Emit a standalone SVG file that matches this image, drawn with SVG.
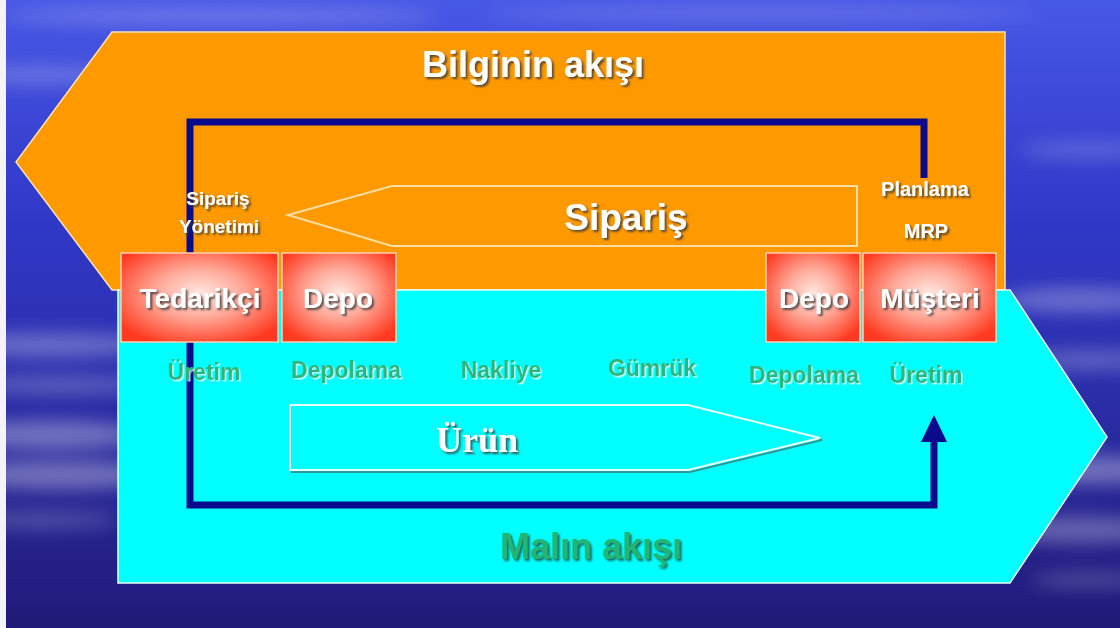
<svg xmlns="http://www.w3.org/2000/svg" width="1120" height="628" viewBox="0 0 1120 628">
  <defs>
    <linearGradient id="sky" x1="0" y1="0" x2="0" y2="1">
      <stop offset="0" stop-color="#4858e6"/>
      <stop offset="0.35" stop-color="#3038c8"/>
      <stop offset="0.7" stop-color="#2a2aa0"/>
      <stop offset="1" stop-color="#201a78"/>
    </linearGradient>
    <radialGradient id="boxFill" cx="0.5" cy="0.45" r="0.62">
      <stop offset="0" stop-color="#ffe8e0"/>
      <stop offset="0.45" stop-color="#ffa898"/>
      <stop offset="1" stop-color="#ff3a20"/>
    </radialGradient>
    <filter id="haze" x="-50%" y="-50%" width="200%" height="200%">
      <feGaussianBlur stdDeviation="9"/>
    </filter>
    <filter id="shadowDark" x="-10%" y="-20%" width="130%" height="150%">
      <feDropShadow dx="2" dy="2" stdDeviation="0.8" flood-color="#3a3a3a" flood-opacity="0.85"/>
    </filter>
    <filter id="shadowLight" x="-10%" y="-20%" width="130%" height="150%">
      <feDropShadow dx="1.5" dy="1.5" stdDeviation="0.5" flood-color="#ffffff" flood-opacity="0.75"/>
    </filter>
    <filter id="shadowGreen" x="-10%" y="-20%" width="130%" height="150%">
      <feDropShadow dx="2" dy="2" stdDeviation="0.8" flood-color="#1d5a48" flood-opacity="0.9"/>
    </filter>
    <style>
      .white-bold { font-family: "Liberation Sans", Arial, sans-serif; font-weight: bold; fill: #ffffff; text-anchor: middle; }
      .step { font-family: "Liberation Sans", Arial, sans-serif; font-weight: bold; fill: #2fb57c; text-anchor: middle; font-size: 23px; filter: url(#shadowLight); }
      .box { fill: url(#boxFill); stroke: #ffcfae; stroke-width: 1.5; }
      .box-label { font-size: 28px; filter: url(#shadowDark); }
      .flow { fill: none; stroke: #0a0a8c; stroke-width: 7; stroke-linejoin: miter; }
    </style>
  </defs>

  <!-- backdrop: blue sky with soft streaks -->
  <rect x="0" y="0" width="1120" height="628" fill="url(#sky)"/>
  <g fill="#ffffff" filter="url(#haze)">
    <ellipse cx="220" cy="16" rx="220" ry="7" opacity="0.25"/>
    <ellipse cx="760" cy="14" rx="280" ry="6" opacity="0.2"/>
    <ellipse cx="40" cy="75" rx="70" ry="8" opacity="0.25"/>
    <ellipse cx="50" cy="345" rx="100" ry="12" opacity="0.3"/>
    <ellipse cx="60" cy="385" rx="90" ry="9" opacity="0.25"/>
    <ellipse cx="50" cy="435" rx="90" ry="14" opacity="0.35"/>
    <ellipse cx="60" cy="475" rx="100" ry="14" opacity="0.35"/>
    <ellipse cx="40" cy="520" rx="80" ry="9" opacity="0.2"/>
    <ellipse cx="1090" cy="150" rx="70" ry="8" opacity="0.2"/>
    <ellipse cx="1080" cy="300" rx="80" ry="12" opacity="0.3"/>
    <ellipse cx="1090" cy="360" rx="70" ry="10" opacity="0.25"/>
    <ellipse cx="1090" cy="470" rx="80" ry="14" opacity="0.35"/>
    <ellipse cx="1080" cy="530" rx="80" ry="13" opacity="0.3"/>
    <ellipse cx="1090" cy="580" rx="60" ry="8" opacity="0.2"/>
  </g>
  <rect x="0" y="0" width="6" height="628" fill="#f4f4f8"/>

  <!-- information flow band (left-pointing) -->
  <g id="bilgi-akisi">
    <polygon points="112,32 1005,32 1005,290 112,290 16,162" fill="#ff9900" stroke="#ffe2b0" stroke-width="1.5"/>
    <text class="white-bold" x="533" y="77" font-size="36" filter="url(#shadowDark)">Bilginin akışı</text>
  </g>

  <!-- goods flow band (right-pointing) -->
  <g id="malin-akisi">
    <polygon points="118,290 1010,290 1107,437 1010,583 118,583" fill="#00ffff" stroke="#e8ffff" stroke-width="1.5"/>
    <text x="591" y="559" font-family="Liberation Sans, Arial, sans-serif" font-weight="bold" font-size="36" fill="#22b573" text-anchor="middle" filter="url(#shadowGreen)">Malın akışı</text>
  </g>

  <!-- order arrow -->
  <g id="siparis">
    <polygon points="288,215 392,186 857,186 857,246 392,246" fill="#ff9900" stroke="#ffdca0" stroke-width="2"/>
    <text class="white-bold" x="626" y="230" font-size="37" filter="url(#shadowDark)">Sipariş</text>
  </g>

  <!-- product arrow -->
  <g id="urun">
    <polygon points="292,407 690,407 822,440 690,472 292,472" fill="none" stroke="#2a9a9a" stroke-width="2"/>
    <polygon points="290,405 688,405 820,438 688,470 290,470" fill="#00ffff" stroke="#e8ffff" stroke-width="2"/>
    <text x="477" y="452" font-family="Liberation Serif, Times New Roman, serif" font-weight="bold" font-size="36" fill="#ffffff" text-anchor="middle" filter="url(#shadowDark)">Ürün</text>
  </g>

  <!-- connectors -->
  <g id="connectors">
    <polyline class="flow" points="924,178 924,122 190,122 190,505 934,505 934,442"/>
    <polygon points="934,415 921,442 947,442" fill="#0a0a8c"/>
  </g>

  <!-- nodes -->
  <g id="tedarikci">
    <rect class="box" x="121" y="253" width="157" height="89"/>
    <text class="white-bold box-label" x="200" y="308">Tedarikçi</text>
  </g>
  <g id="depo-1">
    <rect class="box" x="282" y="253" width="114" height="89"/>
    <text class="white-bold box-label" x="338" y="308">Depo</text>
  </g>
  <g id="depo-2">
    <rect class="box" x="766" y="253" width="94" height="89"/>
    <text class="white-bold box-label" x="814" y="308">Depo</text>
  </g>
  <g id="musteri">
    <rect class="box" x="863" y="253" width="133" height="89"/>
    <text class="white-bold box-label" x="930" y="308">Müşteri</text>
  </g>

  <!-- side labels -->
  <g id="siparis-yonetimi">
    <text class="white-bold" x="218" y="205" font-size="19" filter="url(#shadowDark)">Sipariş</text>
    <text class="white-bold" x="219" y="233" font-size="19" filter="url(#shadowDark)">Yönetimi</text>
  </g>
  <g id="planlama-mrp">
    <text class="white-bold" x="925" y="196" font-size="20" filter="url(#shadowDark)">Planlama</text>
    <text class="white-bold" x="926" y="238" font-size="20" filter="url(#shadowDark)">MRP</text>
  </g>

  <!-- process steps -->
  <g id="adimlar">
    <text class="step" x="204" y="380">Üretim</text>
    <text class="step" x="346" y="378">Depolama</text>
    <text class="step" x="501" y="378">Nakliye</text>
    <text class="step" x="652" y="376">Gümrük</text>
    <text class="step" x="804" y="383">Depolama</text>
    <text class="step" x="926" y="383">Üretim</text>
  </g>
</svg>
